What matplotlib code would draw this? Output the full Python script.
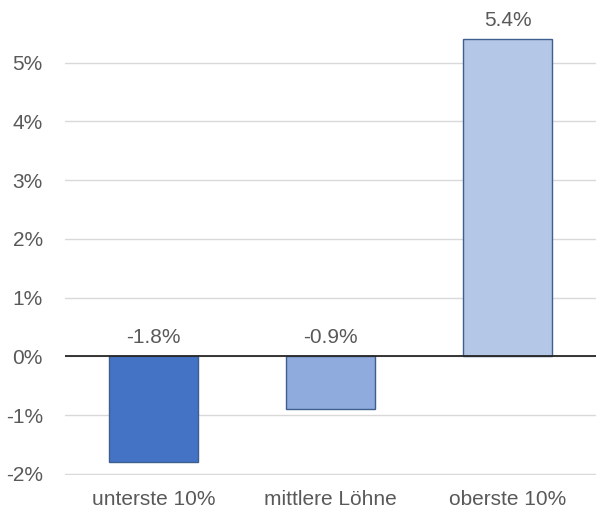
import matplotlib.pyplot as plt

categories = ["unterste 10%", "mittlere Löhne", "oberste 10%"]
values = [-1.8, -0.9, 5.4]
labels = ["-1.8%", "-0.9%", "5.4%"]
colors = ["#4472C4", "#8FAADC", "#B4C7E7"]
yticks = [-2, -1, 0, 1, 2, 3, 4, 5]

plt.rcParams['font.family'] = ['Liberation Sans', 'DejaVu Sans']

fig = plt.figure(figsize=(5.96, 5.15), dpi=100)
ax = fig.add_axes([65 / 596, 40 / 515, 531 / 596, 471 / 515])

x = range(len(categories))
bars = ax.bar(x, values, width=0.5, color=colors, edgecolor="#3F5F8F", linewidth=1, zorder=3)

for b, v, lab in zip(bars, values, labels):
    ax.annotate(lab, (b.get_x() + b.get_width() / 2, max(v, 0)), xytext=(0, 7),
                textcoords="offset points", ha="center", va="bottom",
                fontsize=15, color="#595959")

ax.set_xlim(-0.5, 2.5)
ax.set_ylim(-2.02, 6)
ax.set_yticks(yticks)
ax.set_yticklabels([f"{t}%" for t in yticks])
ax.set_xticks(list(x))
ax.set_xticklabels(categories)
ax.tick_params(axis="y", length=0, pad=16, labelsize=15, labelcolor="#595959")
ax.tick_params(axis="x", length=0, pad=11, labelsize=15, labelcolor="#595959")

ax.yaxis.grid(True, color="#D9D9D9", linewidth=1, zorder=0)
ax.axhline(0, color="#262626", linewidth=1.3, zorder=4)
for s in ax.spines.values():
    s.set_visible(False)

fig.savefig("out.png", dpi=100)
